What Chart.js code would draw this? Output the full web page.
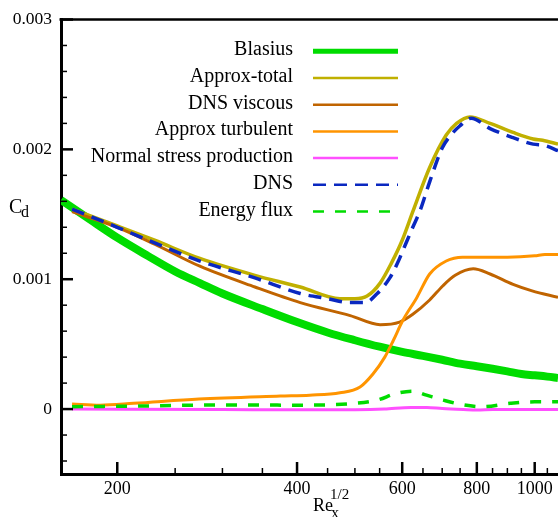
<!DOCTYPE html>
<html>
<head>
<meta charset="utf-8">
<script src="https://cdn.jsdelivr.net/npm/chart.js@4.4.1/dist/chart.umd.min.js"></script>
<style>
  html, body { margin: 0; padding: 0; background: #fff; }
  #wrap { width: 558px; height: 517px; position: relative; }
</style>
</head>
<body>
<div id="wrap"><canvas id="cd"></canvas></div>
<script>
// Dissipation coefficient vs Re_x^(1/2).

const reBlasius = [161, 180, 200, 225, 250, 275, 300, 350, 400, 450, 500, 550, 600, 650, 700, 750, 800, 850, 900, 950, 1000, 1050, 1094];
const cdBlasius = [0.00161, 0.00146, 0.00132, 0.00118, 0.00106, 0.00097, 0.00089, 0.00077, 0.00067, 0.00059, 0.00053, 0.00048, 0.00044, 0.00041, 0.00038, 0.00035, 0.00033, 0.00031, 0.00029, 0.00027, 0.00026, 0.00025, 0.00024];

const reTotal = [168, 200, 231, 275, 340, 405, 472, 500, 524, 551, 575, 600, 625, 667, 711, 740, 779, 842, 920, 994, 1031, 1094];
const cdTotal = [0.00154, 0.00141, 0.00130, 0.00116, 0.00103, 0.00094, 0.00085, 0.00085, 0.00087, 0.00097, 0.00112, 0.00130, 0.00152, 0.00186, 0.00211, 0.00220, 0.00225, 0.00220, 0.00213, 0.00208, 0.00207, 0.00204];

const reViscous = [168, 200, 231, 275, 340, 405, 491, 551, 594, 625, 667, 702, 736, 789, 842, 920, 990, 1094];
const cdViscous = [0.00152, 0.00140, 0.00127, 0.00110, 0.00094, 0.00082, 0.00072, 0.00065, 0.00067, 0.00073, 0.00084, 0.00095, 0.00103, 0.00108, 0.00104, 0.00096, 0.00091, 0.00086];

const reTurb = [168, 187, 213, 274, 375, 420, 472, 510, 536, 561, 580, 601, 635, 667, 711, 757, 811, 900, 1000, 1040, 1094];
const cdTurb = [0.00004, 0.00003, 0.000044, 0.000077, 0.000100, 0.000107, 0.000125, 0.00017, 0.00027, 0.00040, 0.00053, 0.00068, 0.00086, 0.00104, 0.00114, 0.00117, 0.00117, 0.00117, 0.00118, 0.00119, 0.00119];

const reNormal = [168, 300, 400, 500, 560, 620, 660, 700, 760, 800, 850, 1000, 1094];
const cdNormal = [0, -0.000003, -0.000006, -0.000005, 0, 0.000012, 0.000012, 0.000004, -0.000004, -0.000008, -0.000004, -0.000003, -0.000003];

const reDns = [168, 200, 231, 275, 340, 405, 450, 491, 520, 545, 572, 590, 604, 625, 643, 667, 700, 727, 749, 783, 842, 920, 994, 1040, 1094];
const cdDns = [0.00154, 0.00140, 0.00128, 0.00114, 0.00101, 0.00089, 0.00085, 0.00082, 0.00082, 0.00089, 0.00101, 0.00113, 0.00124, 0.00140, 0.00153, 0.00175, 0.00201, 0.00212, 0.00218, 0.00224, 0.00216, 0.00209, 0.00204, 0.00203, 0.00199];

const reFlux = [168, 230, 300, 405, 500, 545, 586, 625, 659, 703, 749, 819, 910, 1000, 1094];
const cdFlux = [0.000018, 0.000025, 0.000032, 0.00003, 0.000044, 0.000069, 0.00012, 0.000138, 0.000107, 0.000069, 0.000038, 0.000018, 0.000044, 0.000056, 0.000056];

const xTicks = [200, 250, 300, 350, 400, 450, 500, 550, 600, 650, 700, 750, 800, 850, 900, 950, 1000, 1050];
const xLabels = [200, 400, 600, 800, 1000];
const yTicks = [-0.0004, -0.0002, 0, 0.0002, 0.0004, 0.0006, 0.0008, 0.001, 0.0012, 0.0014, 0.0016, 0.0018, 0.002, 0.0022, 0.0024, 0.0026, 0.0028, 0.003];
const yLabels = [0, 0.001, 0.002, 0.003];

const SERIF = '"Liberation Serif", "DejaVu Serif", serif';

function series(xs, ys) {
  return xs.map((x, i) => ({ x, y: ys[i] }));
}

function isLabelled(list, v) {
  return list.some((l) => Math.abs(l - v) < 1e-9);
}

const line = { pointRadius: 0, fill: false, cubicInterpolationMode: 'monotone', borderCapStyle: 'butt' };

// Legend order is array order; `order` controls stacking (lower = on top).
const datasets = [
  { ...line, label: 'Blasius', data: series(reBlasius, cdBlasius), borderColor: '#00dc00', borderWidth: 8, legendWidth: 5, order: 6 },
  { ...line, label: 'Approx-total', data: series(reTotal, cdTotal), borderColor: '#c0b000', borderWidth: 3.5, legendWidth: 2.5, order: 4 },
  { ...line, label: 'DNS viscous', data: series(reViscous, cdViscous), borderColor: '#c06400', borderWidth: 3, legendWidth: 2.5, order: 3 },
  { ...line, label: 'Approx turbulent', data: series(reTurb, cdTurb), borderColor: '#ff9400', borderWidth: 3, legendWidth: 2.5, order: 2 },
  { ...line, label: 'Normal stress production', data: series(reNormal, cdNormal), borderColor: '#ff50ff', borderWidth: 3, legendWidth: 2.5, order: 5 },
  { ...line, label: 'DNS', data: series(reDns, cdDns), borderColor: '#0a28c0', borderWidth: 3.5, borderDash: [13, 8], legendWidth: 2.5, order: 0 },
  { ...line, label: 'Energy flux', data: series(reFlux, cdFlux), borderColor: '#00dc00', borderWidth: 3.5, borderDash: [11, 11], legendWidth: 2.5, order: 1 },
];

// Ticks point inward (Tecplot style), major ones longer; also the top frame line.
const frame = {
  id: 'frame',
  afterDraw(chart) {
    const { ctx, chartArea: a, scales: { x, y } } = chart;
    ctx.save();
    ctx.strokeStyle = '#000';
    xTicks.forEach((v) => {
      const px = x.getPixelForValue(v);
      const major = isLabelled(xLabels, v);
      ctx.lineWidth = major ? 2.5 : 1.5;
      ctx.beginPath();
      ctx.moveTo(px, a.bottom);
      ctx.lineTo(px, a.bottom - (major ? 12 : 6));
      ctx.stroke();
    });
    yTicks.forEach((v) => {
      const py = y.getPixelForValue(v);
      const major = isLabelled(yLabels, v);
      ctx.lineWidth = major ? 2.5 : 1.5;
      ctx.beginPath();
      ctx.moveTo(a.left, py);
      ctx.lineTo(a.left + (major ? 12 : 6), py);
      ctx.stroke();
    });
    ctx.lineWidth = 2.5;
    ctx.beginPath();
    ctx.moveTo(a.left - 1.5, a.top);
    ctx.lineTo(a.right, a.top);
    ctx.stroke();
    ctx.restore();
  },
};

// Legend: right-aligned names with the line sample to their right.
const sampleLegend = {
  id: 'sampleLegend',
  afterDraw(chart) {
    const ctx = chart.ctx;
    ctx.save();
    ctx.font = `20px ${SERIF}`;
    ctx.textAlign = 'right';
    ctx.textBaseline = 'alphabetic';
    chart.data.datasets.forEach((ds, i) => {
      const ly = 51.3 + i * 26.7;
      ctx.fillStyle = '#000';
      ctx.fillText(ds.label, 293, ly + 4);
      ctx.strokeStyle = ds.borderColor;
      ctx.lineWidth = ds.legendWidth;
      ctx.setLineDash(ds.borderDash || []);
      ctx.beginPath();
      ctx.moveTo(313, ly);
      ctx.lineTo(398, ly);
      ctx.stroke();
    });
    ctx.restore();
  },
};

const axisTitles = {
  id: 'axisTitles',
  afterDraw(chart) {
    const ctx = chart.ctx;
    ctx.save();
    ctx.fillStyle = '#000';
    ctx.textAlign = 'left';
    ctx.textBaseline = 'alphabetic';
    ctx.font = `20px ${SERIF}`;
    ctx.fillText('C', 9, 213);
    ctx.font = `16px ${SERIF}`;
    ctx.fillText('d', 21, 217);
    ctx.font = `18px ${SERIF}`;
    ctx.fillText('Re', 313, 511);
    ctx.font = `16px ${SERIF}`;
    ctx.fillText('x', 331, 518);
    ctx.font = `15px ${SERIF}`;
    ctx.fillText('1/2', 330, 499);
    ctx.restore();
  },
};

new Chart(document.getElementById('cd'), {
  type: 'line',
  data: { datasets },
  options: {
    responsive: true, maintainAspectRatio: false, animation: false,
    layout: { padding: { top: 17, right: 0, left: 0, bottom: 0 } },
    scales: {
      x: {
        type: 'logarithmic', min: 161, max: 1094, bounds: 'data',
        grid: { display: false, drawTicks: false },
        border: { display: true, color: '#000', width: 3 },
        afterBuildTicks(scale) { scale.ticks = xTicks.map((v) => ({ value: v })); },
        afterFit(scale) { scale.height = 43; },
        ticks: {
          autoSkip: false, maxRotation: 0, minRotation: 0, padding: 4, color: '#000',
          font: { family: SERIF, size: 18 },
          callback: (v) => (isLabelled(xLabels, v) ? String(v) : ''),
        },
      },
      y: {
        type: 'linear', min: -0.0005, max: 0.003, bounds: 'data',
        grid: { display: false, drawTicks: false },
        border: { display: true, color: '#000', width: 3 },
        afterBuildTicks(scale) { scale.ticks = yTicks.map((v) => ({ value: v })); },
        afterFit(scale) { scale.width = 61; },
        ticks: {
          autoSkip: false, padding: 9, color: '#000',
          font: { family: SERIF, size: 17.5 },
          callback: (v) => (isLabelled(yLabels, v) ? (Math.abs(v) < 1e-9 ? '0' : v.toFixed(3)) : ''),
        },
      },
    },
    plugins: { legend: { display: false }, tooltip: { enabled: false } },
  },
  plugins: [frame, sampleLegend, axisTitles],
});
</script>
</body>
</html>
